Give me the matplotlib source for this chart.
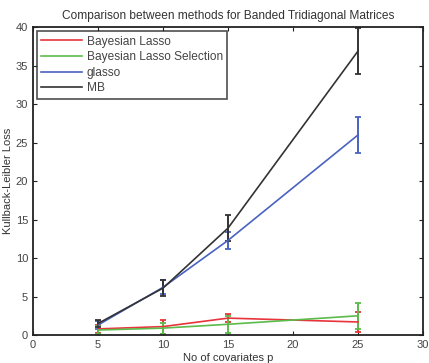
import matplotlib
matplotlib.use('Agg')
import matplotlib.pyplot as plt

plt.rcParams['font.family'] = ['Liberation Sans', 'DejaVu Sans']

# data
p = [5, 10, 15, 25]
bl = [0.8, 1.1, 2.2, 1.7]
bl_err = [0.5, 0.9, 0.5, 1.3]
bls = [0.65, 0.9, 1.4, 2.5]
bls_err = [0.5, 0.7, 1.1, 1.7]
glasso = [1.3, 6.2, 12.3, 26.0]
glasso_err = [0.5, 0.9, 1.1, 2.3]
mb = [1.5, 6.1, 13.9, 36.9]
mb_err = [0.5, 1.0, 1.7, 3.0]

names = ['Bayesian Lasso', 'Bayesian Lasso Selection', 'glasso', 'MB']
colors = ['#e8343c', '#5cbb4a', '#4a62c0', '#333333']

fig = plt.figure(figsize=(4.29, 3.63), dpi=100)
ax = fig.add_axes([0.077, 0.077, 0.909, 0.848])

series = [(bl, bl_err), (bls, bls_err), (glasso, glasso_err), (mb, mb_err)]
lines = []
for (ys, es), c, n in zip(series, colors, names):
	ax.errorbar(p, ys, yerr=es, color=c, lw=1.2, elinewidth=1.4, capsize=2.5, capthick=1.3)
	l, = ax.plot([], [], color=c, lw=1.2, label=n)
	lines.append(l)

ax.set_xlim(0, 30)
ax.set_ylim(0, 40)
ax.set_xticks([0, 5, 10, 15, 20, 25, 30])
ax.set_yticks(range(0, 41, 5))
ax.tick_params(direction='in', top=True, right=True, labelsize=8, length=3, color='#222222', labelcolor='#444444')
for s in ax.spines.values():
	s.set_linewidth(1.3)
	s.set_color('#222222')
ax.set_title('Comparison between methods for Banded Tridiagonal Matrices', fontsize=8.6, color='#333333', pad=6)
ax.set_xlabel('No of covariates p', fontsize=8, color='#333333', labelpad=2)
ax.set_ylabel('Kullback-Leibler Loss', fontsize=8, color='#333333', labelpad=2)
leg = ax.legend(handles=lines, loc='upper left', fontsize=8.6, fancybox=False, edgecolor='#222222',
	handlelength=3.4, borderpad=0.35, labelspacing=0.3, handletextpad=0.4, borderaxespad=0.35)
leg.get_frame().set_linewidth(1.2)
for t in leg.get_texts():
	t.set_color('#444444')

fig.savefig('out.png', dpi=100)
